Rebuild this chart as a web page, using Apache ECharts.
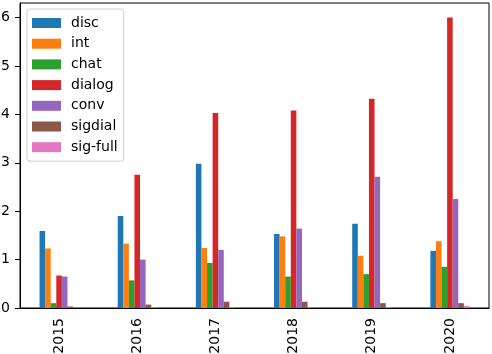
<!DOCTYPE html>
<html>
<head>
<meta charset="utf-8">
<script src="https://cdn.jsdelivr.net/npm/echarts@6/dist/echarts.min.js"></script>
<style>
  html, body { margin: 0; padding: 0; background: #fff; }
  #chart { width: 492px; height: 354px; }
</style>
</head>
<body>
<div id="chart"></div>
<script>
// 年份
const years = ['2015', '2016', '2017', '2018', '2019', '2020'];
// 各系列数值
const disc = [1.59, 1.90, 2.98, 1.53, 1.74, 1.18];
const int_ = [1.23, 1.33, 1.24, 1.48, 1.08, 1.38];
const chat = [0.10, 0.57, 0.93, 0.65, 0.70, 0.85];
const dialog = [0.67, 2.75, 4.03, 4.08, 4.32, 6.00];
const conv = [0.65, 1.00, 1.20, 1.64, 2.71, 2.25];
const sigdial = [0.03, 0.07, 0.13, 0.13, 0.10, 0.10];
const sigFull = [0.005, 0.02, 0.02, 0.01, 0.02, 0.04];
const yTicks = [0, 1, 2, 3, 4, 5, 6];

const seriesList = [
  { name: 'disc', data: disc, color: '#1f77b4' },
  { name: 'int', data: int_, color: '#ff7f0e' },
  { name: 'chat', data: chat, color: '#2ca02c' },
  { name: 'dialog', data: dialog, color: '#d62728' },
  { name: 'conv', data: conv, color: '#9467bd' },
  { name: 'sigdial', data: sigdial, color: '#8c564b' },
  { name: 'sig-full', data: sigFull, color: '#e377c2' },
];

const font = 'DejaVu Sans';
const chart = echarts.init(document.getElementById('chart'));

chart.setOption({
  animation: false,
  textStyle: { fontFamily: font },
  legend: {
    orient: 'vertical',
    left: 27,
    top: 9,
    padding: [7, 6, 7, 5],
    itemWidth: 29,
    itemHeight: 10,
    itemGap: 6.7,
    backgroundColor: 'rgba(255,255,255,0.8)',
    borderColor: '#cccccc',
    borderWidth: 1,
    borderRadius: 3,
    icon: 'rect',
    textStyle: { fontFamily: font, fontSize: 14, color: '#000', padding: [0, 0, 0, 5] },
    data: seriesList.map(s => s.name),
  },
  grid: {
    left: 20,
    right: 3,
    top: 3,
    bottom: 46,
    show: true,
    borderColor: '#000',
    borderWidth: 1,
    containLabel: false,
    outerBoundsMode: 'none',
  },
  xAxis: {
    type: 'category',
    data: years,
    axisLine: { lineStyle: { color: '#000', width: 1 } },
    axisTick: { alignWithLabel: true, length: 5, lineStyle: { color: '#000' } },
    axisLabel: { rotate: 90, margin: 10, fontSize: 14, color: '#000', fontFamily: font },
  },
  yAxis: {
    type: 'value',
    min: 0,
    max: 6.3,
    interval: 1,
    splitLine: { show: false },
    axisLine: { show: true, lineStyle: { color: '#000', width: 1 } },
    axisTick: { show: true, length: 5, lineStyle: { color: '#000' }, customValues: yTicks },
    axisLabel: { margin: 10, fontSize: 14, color: '#000', fontFamily: font, customValues: yTicks },
  },
  series: seriesList.map(s => ({
    name: s.name,
    type: 'bar',
    data: s.data,
    barGap: '0%',
    barCategoryGap: '50%',
    itemStyle: { color: s.color },
  })),
});
</script>
</body>
</html>
